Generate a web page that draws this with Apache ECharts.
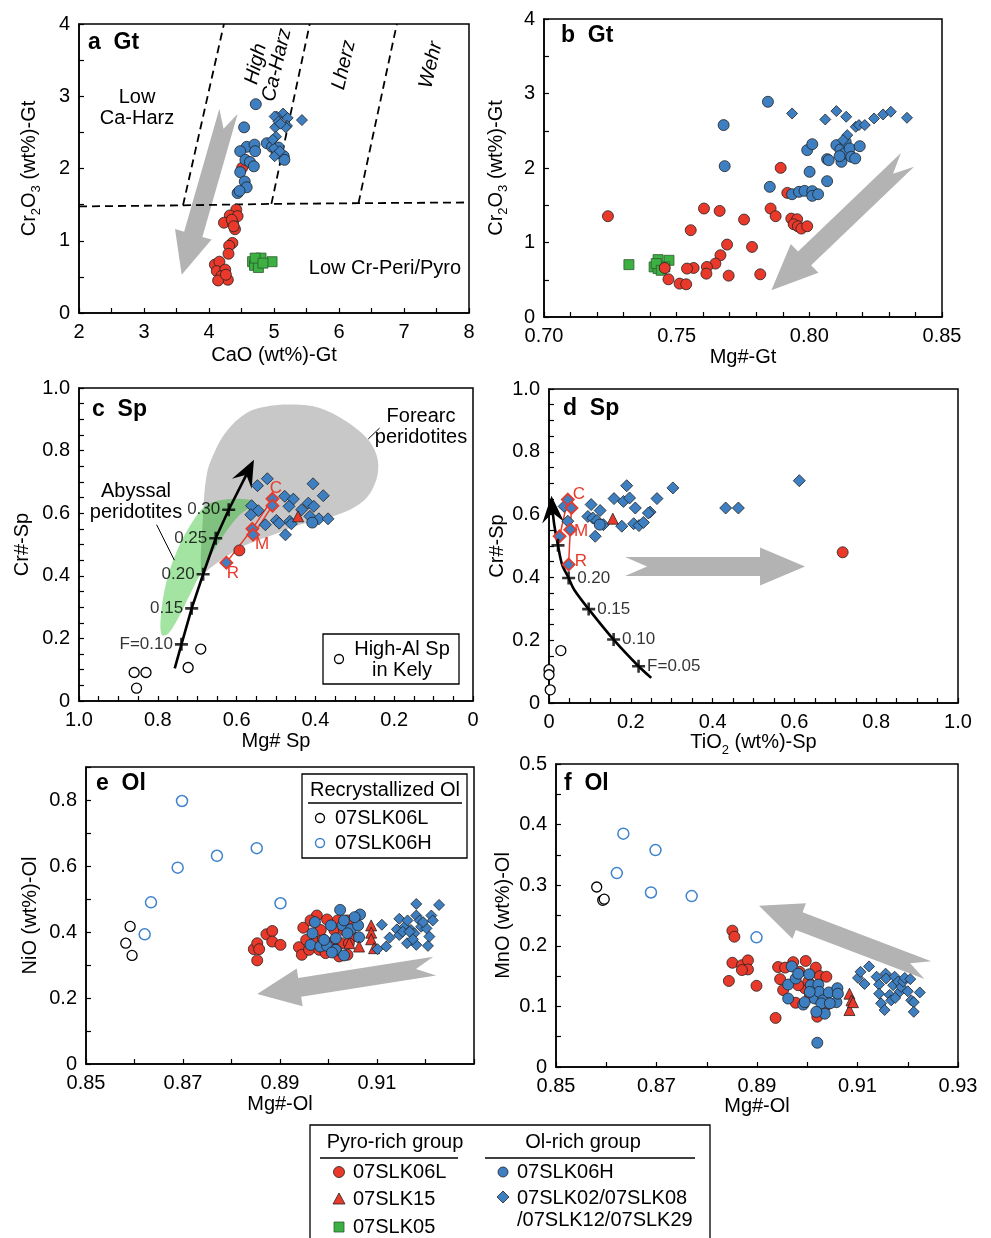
<!DOCTYPE html>
<html>
<head>
<meta charset="utf-8">
<script src="https://cdn.jsdelivr.net/npm/echarts@6/dist/echarts.min.js"></script>
<style>
  html, body { margin: 0; padding: 0; background: #fff; }
  #chart { width: 991px; height: 1238px; }
</style>
</head>
<body>
<div id="chart"></div>
<script>
// ---- panel a : CaO vs Cr2O3 in garnet ----
const aRed = [[4.51,2.01],[4.42,1.43],[4.32,1.35],[4.44,1.34],[4.23,1.25],[4.37,1.24],[4.40,1.16],[4.35,1.29],[4.38,1.20],[4.36,0.97],[4.31,0.93],[4.30,0.82],[4.09,0.67],[4.16,0.71],[4.12,0.58],[4.25,0.60],[4.19,0.51],[4.29,0.46],[4.14,0.45],[4.26,0.53]];
const aGreen = [[4.67,0.71],[4.80,0.76],[4.97,0.71],[4.70,0.66],[4.76,0.63],[4.71,0.76],[4.83,0.69]];
const aBlue = [[4.72,2.89],[4.54,2.57],[4.58,2.30],[4.48,2.24],[4.70,2.33],[4.71,2.24],[4.56,2.12],[4.63,2.09],[4.69,2.03],[4.48,1.95],[4.55,1.82],[4.58,1.74],[4.44,1.66],[4.47,1.69],[4.89,2.35],[4.97,2.30],[5.07,2.29],[5.15,2.17],[5.16,2.12],[5.04,2.21]];
const aDia = [[5.43,2.67],[5.14,2.76],[5.04,2.72],[5.21,2.70],[5.02,2.57],[5.20,2.59],[5.03,2.44],[5.01,2.72],[5.07,2.65],[5.00,2.28],[5.01,2.17],[5.09,2.24],[5.18,2.57],[5.10,2.62],[4.98,2.40]];
const aFields = [
  [[2,1.475],[3.6,1.49],[4.96,1.51],[6.30,1.52],[8,1.53]],
  [[3.6,1.49],[4.23,4.0]],
  [[4.96,1.51],[5.55,4.0]],
  [[6.30,1.52],[6.89,4.0]]
];
const aArrow = [4.30, 2.79, 3.58, 0.53];
const aXLabels = ['2','3','4','5','6','7','8'];
const aYLabels = ['0','1','2','3','4'];

// ---- panel b : Mg# vs Cr2O3 in garnet ----
const bGreen = [[0.7320,0.703],[0.7430,0.770],[0.7471,0.761],[0.7415,0.672],[0.7430,0.650],[0.7455,0.672],[0.7423,0.717],[0.7442,0.627]];
const bRed = [[0.7241,1.353],[0.7892,2.002],[0.7917,1.666],[0.7854,1.456],[0.7873,1.353],[0.7932,1.321],[0.7954,1.312],[0.7941,1.245],[0.7957,1.218],[0.7970,1.187],[0.7992,1.218],[0.7603,1.456],[0.7662,1.424],[0.7754,1.308],[0.7553,1.165],[0.7690,0.972],[0.7784,0.941],[0.7665,0.829],[0.7646,0.717],[0.7614,0.672],[0.7612,0.582],[0.7564,0.658],[0.7539,0.650],[0.7696,0.555],[0.7815,0.573],[0.7455,0.658],[0.7469,0.506],[0.7511,0.448],[0.7536,0.439]];
const bBlue = [[0.7844,2.889],[0.7677,2.576],[0.7681,2.025],[0.7851,1.747],[0.7935,1.648],[0.7961,1.680],[0.7982,1.693],[0.8011,1.689],[0.8011,1.626],[0.8033,1.648],[0.7992,2.240],[0.8011,2.320],[0.8001,1.949],[0.8067,1.823],[0.8067,2.119],[0.8073,2.105],[0.8102,2.307],[0.8117,2.249],[0.8121,2.083],[0.8137,2.352],[0.8133,2.195],[0.8152,2.262],[0.8158,2.150],[0.8173,2.128],[0.8190,2.293],[0.8114,2.159]];
const bDia = [[0.7935,2.732],[0.8060,2.652],[0.8102,2.764],[0.8139,2.688],[0.8175,2.553],[0.8187,2.576],[0.8209,2.576],[0.8244,2.665],[0.8278,2.719],[0.8307,2.755],[0.8368,2.674],[0.8143,2.441],[0.8127,2.374]];
const bArrow = [0.837, 2.11, 0.7857, 0.36];
const bXLabels = ['0.70','0.75','0.80','0.85'];
const bYLabels = ['0','1','2','3','4'];

// ---- panel c : Mg# vs Cr# in spinel ----
const forearcField = [[0.689,0.403],[0.685,0.595],[0.676,0.723],[0.659,0.787],[0.626,0.861],[0.575,0.920],[0.524,0.941],[0.456,0.947],[0.389,0.936],[0.321,0.893],[0.270,0.840],[0.245,0.787],[0.241,0.733],[0.254,0.680],[0.279,0.638],[0.321,0.606],[0.372,0.584],[0.440,0.563],[0.507,0.531],[0.575,0.499],[0.626,0.462],[0.668,0.424]];
const abyssalField = [[0.790,0.211],[0.792,0.275],[0.778,0.382],[0.752,0.478],[0.719,0.558],[0.680,0.622],[0.634,0.643],[0.566,0.643],[0.554,0.632],[0.592,0.595],[0.626,0.542],[0.659,0.478],[0.693,0.403],[0.719,0.339],[0.744,0.275],[0.773,0.216]];
const cDia = [[0.547,0.688],[0.522,0.710],[0.406,0.694],[0.380,0.656],[0.478,0.654],[0.456,0.645],[0.467,0.622],[0.562,0.624],[0.545,0.608],[0.564,0.595],[0.418,0.632],[0.404,0.622],[0.435,0.611],[0.414,0.590],[0.391,0.582],[0.368,0.582],[0.465,0.574],[0.499,0.577],[0.492,0.568],[0.461,0.566],[0.527,0.563],[0.476,0.531]];
const cZoned = [[0.626,0.442],[0.560,0.550],[0.558,0.531],[0.509,0.646],[0.509,0.624]];
const cZoneLines = [[[0.626,0.442],[0.560,0.550],[0.509,0.646]], [[0.509,0.624],[0.558,0.531]]];
const cBlue = [[0.408,0.570]];
const cRed = [[0.593,0.481]];
const cTri = [[0.444,0.590]];
const cOpen = [[0.860,0.091],[0.830,0.091],[0.854,0.041],[0.723,0.107],[0.691,0.166]];
const cMeltLine = [[0.757,0.104],[0.740,0.181],[0.714,0.296],[0.685,0.405],[0.653,0.520],[0.620,0.611],[0.556,0.771]];
const cMeltTicks = [[0.740,0.181,'F=0.10'],[0.714,0.296,'0.15'],[0.685,0.405,'0.20'],[0.653,0.520,'0.25'],[0.620,0.611,'0.30']];
const cLeaders = [[[0.803,0.563],[0.758,0.450]], [[0.266,0.837],[0.237,0.872]]];
const cXLabels = ['1.0','0.8','0.6','0.4','0.2','0'];
const cYLabels = ['0','0.2','0.4','0.6','0.8','1.0'];

// ---- panel d : TiO2 vs Cr# in spinel ----
const dDia = [[0.103,0.632],[0.190,0.692],[0.159,0.651],[0.182,0.642],[0.197,0.653],[0.211,0.621],[0.264,0.651],[0.303,0.685],[0.247,0.608],[0.243,0.605],[0.125,0.613],[0.095,0.594],[0.107,0.589],[0.117,0.581],[0.133,0.568],[0.113,0.531],[0.178,0.563],[0.207,0.571],[0.220,0.565],[0.231,0.575],[0.432,0.621],[0.463,0.621],[0.612,0.708],[0.037,0.626],[0.046,0.579]];
const dZoned = [[0.046,0.648],[0.055,0.621],[0.052,0.552],[0.048,0.441],[0.026,0.531]];
const dZoneLines = [[[0.026,0.531],[0.046,0.648],[0.055,0.621],[0.052,0.552],[0.048,0.441]]];
const dBlue = [[0.124,0.568]];
const dRed = [[0.718,0.480]];
const dTri = [[0.156,0.587]];
const dOpen = [[0.000,0.106],[0.000,0.090],[0.003,0.042],[0.029,0.167]];
const dMeltLine = [[0.250,0.080],[0.219,0.117],[0.158,0.202],[0.097,0.299],[0.062,0.360],[0.048,0.398],[0.032,0.441],[0.022,0.502],[0.013,0.566],[0.008,0.620],[0.006,0.660]];
const dMeltTicks = [[0.219,0.117,'F=0.05'],[0.158,0.202,'0.10'],[0.097,0.299,'0.15'],[0.048,0.398,'0.20'],[0.022,0.502,'']];
const dArrow = [0.186, 0.435, 0.626, 0.435];
const dXLabels = ['0','0.2','0.4','0.6','0.8','1.0'];
const dYLabels = ['0','0.2','0.4','0.6','0.8','1.0'];

// ---- panel e : Mg# vs NiO in olivine ----
const eOpenL = [[0.8591,0.417],[0.8582,0.366],[0.8595,0.329]];
const eOpenH = [[0.8698,0.797],[0.8689,0.595],[0.8634,0.490],[0.8621,0.393],[0.8770,0.631],[0.8852,0.654],[0.8901,0.487]];
const eRed = [[0.8846,0.348],[0.8853,0.366],[0.8853,0.314],[0.8857,0.348],[0.8872,0.393],[0.8884,0.403],[0.8884,0.371],[0.8901,0.361],[0.8939,0.354],[0.8945,0.331],[0.8948,0.413],[0.8954,0.376],[0.8960,0.346],[0.8976,0.450],[0.8974,0.371],[0.8981,0.346],[0.8988,0.378],[0.8997,0.438],[0.9001,0.366],[0.9012,0.406],[0.9019,0.435],[0.9022,0.326],[0.9026,0.366],[0.9032,0.406],[0.9039,0.435],[0.9039,0.331],[0.9050,0.386],[0.8984,0.406],[0.8963,0.435],[0.9015,0.346],[0.9042,0.366],[0.8994,0.336]];
const eBlue = [[0.8972,0.430],[0.8967,0.396],[0.8963,0.361],[0.8983,0.356],[0.8997,0.358],[0.9005,0.420],[0.9015,0.381],[0.9024,0.467],[0.9029,0.420],[0.9032,0.435],[0.9046,0.408],[0.9061,0.420],[0.9065,0.453],[0.9063,0.384],[0.9015,0.346],[0.9032,0.329],[0.9007,0.338],[0.8991,0.376],[0.9039,0.396],[0.9054,0.445]];
const eTri = [[0.9088,0.420],[0.9088,0.398],[0.9088,0.378],[0.9063,0.356],[0.9043,0.366],[0.9094,0.351]];
const eDia = [[0.9110,0.422],[0.9101,0.348],[0.9119,0.356],[0.9126,0.383],[0.9141,0.408],[0.9146,0.440],[0.9146,0.391],[0.9157,0.416],[0.9163,0.435],[0.9170,0.406],[0.9181,0.485],[0.9181,0.450],[0.9188,0.435],[0.9191,0.416],[0.9177,0.396],[0.9162,0.366],[0.9181,0.361],[0.9174,0.378],[0.9202,0.411],[0.9205,0.358],[0.9212,0.450],[0.9215,0.435],[0.9208,0.386],[0.9228,0.482],[0.9153,0.401],[0.9167,0.401],[0.9195,0.430]];
const eArrow = [0.9219, 0.2965, 0.8853, 0.212];
const eXLabels = ['0.85','0.87','0.89','0.91'];
const eYLabels = ['0','0.2','0.4','0.6','0.8'];

// ---- panel f : Mg# vs MnO in olivine ----
const fOpenL = [[0.8581,0.297],[0.8593,0.275],[0.8596,0.277]];
const fOpenH = [[0.8634,0.385],[0.8698,0.358],[0.8621,0.320],[0.8689,0.288],[0.8770,0.282],[0.8899,0.214]];
const fRed = [[0.8851,0.225],[0.8855,0.215],[0.8851,0.172],[0.8870,0.168],[0.8882,0.176],[0.8882,0.161],[0.8870,0.160],[0.8844,0.142],[0.8899,0.134],[0.8937,0.081],[0.8942,0.165],[0.8946,0.145],[0.8952,0.127],[0.8956,0.164],[0.8972,0.173],[0.8977,0.106],[0.8985,0.157],[0.8997,0.175],[0.8995,0.130],[0.9002,0.141],[0.9017,0.164],[0.9025,0.150],[0.9038,0.149],[0.9020,0.083],[0.9038,0.102],[0.9005,0.116],[0.8982,0.135]];
const fBlue = [[0.8969,0.166],[0.8962,0.136],[0.8962,0.113],[0.8977,0.146],[0.8982,0.154],[0.8992,0.103],[0.8995,0.107],[0.9004,0.153],[0.9007,0.135],[0.9015,0.113],[0.9022,0.136],[0.9024,0.124],[0.9031,0.110],[0.9028,0.105],[0.9035,0.088],[0.9043,0.123],[0.9058,0.107],[0.9060,0.130],[0.9061,0.121],[0.9020,0.040],[0.9045,0.105],[0.9005,0.124],[0.9018,0.091]];
const fTri = [[0.9084,0.121],[0.9088,0.110],[0.9084,0.094],[0.9091,0.107]];
const fDia = [[0.9101,0.147],[0.9106,0.157],[0.9123,0.166],[0.9114,0.137],[0.9138,0.149],[0.9143,0.136],[0.9156,0.154],[0.9157,0.146],[0.9143,0.121],[0.9147,0.105],[0.9154,0.094],[0.9164,0.119],[0.9171,0.135],[0.9174,0.149],[0.9181,0.141],[0.9184,0.124],[0.9187,0.132],[0.9191,0.141],[0.9194,0.147],[0.9200,0.125],[0.9205,0.145],[0.9207,0.110],[0.9212,0.107],[0.9212,0.091],[0.9224,0.123],[0.9167,0.110],[0.9175,0.114]];
const fArrow = [0.924, 0.160, 0.8904, 0.266];
const fXLabels = ['0.85','0.87','0.89','0.91','0.93'];
const fYLabels = ['0','0.1','0.2','0.3','0.4','0.5'];

// ---- styles ----
const FONT = '"Liberation Sans", Arial, Helvetica, sans-serif';
const RED = '#e8392b', BLUE = '#3d7fc1', GREEN = '#3cb043', OBLUE = '#3f83cc';
const GRAY_ARROW = '#b3b3b3';
const PLUS = 'path://M-1,-5L1,-5L1,-1L5,-1L5,1L1,1L1,5L-1,5L-1,1L-5,1L-5,-1L-1,-1Z';

const ST = {
  red:   { symbol: 'circle', size: 11, fill: RED, stroke: '#222', bw: 0.8 },
  blue:  { symbol: 'circle', size: 11, fill: BLUE, stroke: '#222', bw: 0.8 },
  dia:   { symbol: 'diamond', size: 11, fill: BLUE, stroke: '#222', bw: 0.8 },
  diaL:  { symbol: 'diamond', size: 12, fill: BLUE, stroke: '#222', bw: 0.8 },
  tri:   { symbol: 'triangle', size: 11, fill: RED, stroke: '#222', bw: 0.8 },
  green: { symbol: 'rect', size: 10, fill: GREEN, stroke: '#2d5a2d', bw: 0.8 },
  openK: { symbol: 'circle', size: 10, fill: '#fff', stroke: '#000', bw: 1.3 },
  openB: { symbol: 'circle', size: 11, fill: '#fff', stroke: OBLUE, bw: 1.5 },
  zoned: { symbol: 'diamond', size: 12, fill: BLUE, stroke: RED, bw: 1.8 }
};

const RICH = {
  n: { fontSize: 20, fontFamily: FONT, color: '#000', verticalAlign: 'top', lineHeight: 20 },
  s: { fontSize: 13, fontFamily: FONT, color: '#000', verticalAlign: 'bottom', lineHeight: 24 }
};

function pick(labels) {
  return function (v) {
    for (const s of labels) {
      if (Math.abs(parseFloat(s) - v) < 1e-6) return s;
    }
    return '';
  };
}

function axis(gi, min, max, step, labels, name, gap, extra) {
  return Object.assign({
    gridIndex: gi, type: 'value', min: min, max: max, interval: step,
    name: name, nameLocation: 'middle', nameGap: gap,
    nameTextStyle: { fontSize: 20, color: '#000', fontFamily: FONT, rich: RICH },
    axisLine: { show: true, onZero: false, lineStyle: { color: '#000', width: 1.5 } },
    axisTick: { show: true, inside: true, length: 5, interval: 0, lineStyle: { color: '#000', width: 1.2 } },
    axisLabel: { interval: 0, margin: 9, fontSize: 20, color: '#000', fontFamily: FONT,
                 formatter: pick(labels), showMinLabel: true, showMaxLabel: true },
    splitLine: { show: false }
  }, extra || {});
}

function scatter(gi, data, st) {
  return {
    type: 'scatter', xAxisIndex: gi, yAxisIndex: gi, data: data,
    symbol: st.symbol, symbolSize: st.size, z: 5, silent: true, animation: false,
    itemStyle: { color: st.fill, borderColor: st.stroke, borderWidth: st.bw, opacity: 1 }
  };
}

function polylines(gi, list, lineStyle, extra) {
  return Object.assign({
    type: 'lines', coordinateSystem: 'cartesian2d', xAxisIndex: gi, yAxisIndex: gi,
    polyline: true, data: list.map(function (c) { return { coords: c }; }),
    lineStyle: lineStyle, symbol: 'none', z: 3, silent: true, animation: false
  }, extra || {});
}

// melting trend: polyline through the points with a stealth arrowhead at the last one
function meltCurve(gi, pts, smooth) {
  return {
    type: 'custom', coordinateSystem: 'cartesian2d', xAxisIndex: gi, yAxisIndex: gi,
    data: pts, encode: { x: 0, y: 1 }, z: 4, silent: true, animation: false,
    renderItem: function (params, api) {
      if (params.dataIndex !== 0) return null;
      const px = pts.map(function (p) { return api.coord(p); });
      const tip = px[px.length - 1], prev = px[px.length - 2];
      const dx = tip[0] - prev[0], dy = tip[1] - prev[1];
      const len = Math.sqrt(dx * dx + dy * dy);
      const ux = dx / len, uy = dy / len, nx = -uy, ny = ux;
      const HL = 27, HW = 11, NOTCH = 17;
      const back = [tip[0] - ux * HL, tip[1] - uy * HL];
      const notch = [tip[0] - ux * NOTCH, tip[1] - uy * NOTCH];
      const linePts = px.slice(0, -1).concat([notch]);
      return {
        type: 'group',
        children: [
          { type: 'polyline', shape: { points: linePts, smooth: smooth },
            style: { stroke: '#000', lineWidth: 2.6, fill: null } },
          { type: 'polygon', shape: { points: [
              tip, [back[0] + nx * HW, back[1] + ny * HW], notch, [back[0] - nx * HW, back[1] - ny * HW]
            ] }, style: { fill: '#000' } }
        ]
      };
    }
  };
}

function crosses(gi, ticks, pos) {
  return {
    type: 'scatter', xAxisIndex: gi, yAxisIndex: gi, z: 6, silent: true, animation: false,
    symbol: PLUS, symbolSize: 13, itemStyle: { color: '#000' },
    data: ticks.map(function (t) { return { value: [t[0], t[1]], name: t[2] }; }),
    label: { show: true, position: pos, distance: 2, formatter: '{b}', fontSize: 17,
             fontFamily: FONT, color: '#000' }
  };
}

function field(gi, pts, fill, z) {
  return {
    type: 'custom', coordinateSystem: 'cartesian2d', xAxisIndex: gi, yAxisIndex: gi,
    data: pts, encode: { x: 0, y: 1 }, z: z, silent: true, animation: false,
    renderItem: function (params, api) {
      if (params.dataIndex !== 0) return null;
      const points = pts.map(function (p) { return api.coord(p); });
      return { type: 'polygon', shape: { points: points, smooth: 0.35 }, style: { fill: fill } };
    }
  };
}

// fat grey arrow with notched tail, from tail (x0,y0) to tip (x1,y1)
function fatArrow(gi, seg, sw, hw, hl, nd) {
  return {
    type: 'custom', coordinateSystem: 'cartesian2d', xAxisIndex: gi, yAxisIndex: gi,
    data: [seg], encode: { x: [0, 2], y: [1, 3] }, z: 2, silent: true, animation: false,
    renderItem: function (params, api) {
      const p0 = api.coord([api.value(0), api.value(1)]);
      const p1 = api.coord([api.value(2), api.value(3)]);
      const dx = p1[0] - p0[0], dy = p1[1] - p0[1];
      const len = Math.sqrt(dx * dx + dy * dy);
      const ux = dx / len, uy = dy / len, nx = -uy, ny = ux;
      const bx = p1[0] - ux * hl, by = p1[1] - uy * hl;
      const pts = [
        [p0[0] + nx * sw, p0[1] + ny * sw],
        [bx + nx * sw, by + ny * sw],
        [bx + nx * hw, by + ny * hw],
        [p1[0], p1[1]],
        [bx - nx * hw, by - ny * hw],
        [bx - nx * sw, by - ny * sw],
        [p0[0] - nx * sw, p0[1] - ny * sw],
        [p0[0] + ux * nd, p0[1] + uy * nd]
      ];
      return { type: 'polygon', shape: { points: pts }, style: { fill: GRAY_ARROW } };
    }
  };
}

// ---- graphic helpers ----
function T(text, x, y, o) {
  o = o || {};
  return {
    type: 'text', x: x, y: y, rotation: o.rot || 0, silent: true, z: 20,
    style: {
      text: text, fill: o.color || '#000', fontSize: o.size || 20, fontFamily: FONT,
      fontWeight: o.bold ? 'bold' : 'normal', fontStyle: o.italic ? 'italic' : 'normal',
      align: o.align || 'center', verticalAlign: 'middle', lineHeight: o.lh || 21
    }
  };
}
function L(x1, y1, x2, y2, w) {
  return { type: 'line', silent: true, z: 20, shape: { x1: x1, y1: y1, x2: x2, y2: y2 },
           style: { stroke: '#000', lineWidth: w || 1.5 } };
}
function box(x, y, w, h) {
  return { type: 'rect', silent: true, z: 19, shape: { x: x, y: y, width: w, height: h },
           style: { fill: '#fff', stroke: '#000', lineWidth: 1.3 } };
}
function circ(cx, cy, r, fill, stroke, lw) {
  return { type: 'circle', silent: true, z: 21, shape: { cx: cx, cy: cy, r: r },
           style: { fill: fill, stroke: stroke, lineWidth: lw } };
}
function poly(points, fill) {
  return { type: 'polygon', silent: true, z: 21, shape: { points: points },
           style: { fill: fill, stroke: '#222', lineWidth: 0.8 } };
}

const grids = [
  { left: 79, top: 24, width: 390, height: 289 },
  { left: 544, top: 19, width: 398, height: 298 },
  { left: 79, top: 388, width: 394, height: 313 },
  { left: 549, top: 389, width: 409, height: 314 },
  { left: 86, top: 767, width: 388, height: 297 },
  { left: 556, top: 764, width: 402, height: 303 }
].map(function (g) {
  return Object.assign({ show: true, borderColor: '#000', borderWidth: 1.5,
                         backgroundColor: 'transparent', containLabel: false,
                         outerBoundsMode: 'none' }, g);
});

const xAxes = [
  axis(0, 2, 8, 0.5, aXLabels, '{n|CaO (wt%)-Gt}', 32),
  axis(1, 0.70, 0.85, 0.01, bXLabels, '{n|Mg#-Gt}', 30),
  axis(2, 0, 1, 0.05, cXLabels, '{n|Mg# Sp}', 30, { inverse: true }),
  axis(3, 0, 1, 0.05, dXLabels, '{n|TiO}{s|2}{n| (wt%)-Sp}', 29),
  axis(4, 0.85, 0.93, 0.01, eXLabels, '{n|Mg#-Ol}', 30),
  axis(5, 0.85, 0.93, 0.01, fXLabels, '{n|Mg#-Ol}', 29)
];
const yAxes = [
  axis(0, 0, 4, 0.5, aYLabels, '{n|Cr}{s|2}{n|O}{s|3}{n| (wt%)-Gt}', 36),
  axis(1, 0, 4, 0.5, bYLabels, '{n|Cr}{s|2}{n|O}{s|3}{n| (wt%)-Gt}', 34),
  axis(2, 0, 1, 0.05, cYLabels, '{n|Cr#-Sp}', 47),
  axis(3, 0, 1, 0.05, dYLabels, '{n|Cr#-Sp}', 42),
  axis(4, 0, 0.9, 0.1, eYLabels, '{n|NiO (wt%)-Ol}', 46),
  axis(5, 0, 0.5, 0.05, fYLabels, '{n|MnO (wt%)-Ol}', 43)
];

const thinBlack = { color: '#000', width: 1, opacity: 1 };

const series = [
  // a
  polylines(0, aFields, { color: '#000', width: 1.8, type: [8, 5], opacity: 1 }),
  fatArrow(0, aArrow, 9.5, 19, 42, 18),
  scatter(0, aRed, ST.red), scatter(0, aGreen, ST.green),
  scatter(0, aBlue, ST.blue), scatter(0, aDia, ST.dia),
  // b
  fatArrow(1, bArrow, 9.5, 20, 46, 20),
  scatter(1, bGreen, ST.green), scatter(1, bRed, ST.red),
  scatter(1, bBlue, ST.blue), scatter(1, bDia, ST.dia),
  // c
  field(2, forearcField, '#c8c8c8', 1),
  field(2, abyssalField, 'rgba(0,180,0,0.36)', 1.5),
  polylines(2, cLeaders, thinBlack),
  meltCurve(2, cMeltLine, 0),
  crosses(2, cMeltTicks, 'left'),
  polylines(2, cZoneLines, { color: RED, width: 1.5, opacity: 1 }),
  scatter(2, cOpen, ST.openK), scatter(2, cDia, ST.diaL), scatter(2, cZoned, ST.zoned),
  scatter(2, cRed, ST.red), scatter(2, cBlue, ST.blue), scatter(2, cTri, ST.tri),
  // d
  fatArrow(3, dArrow, 9.5, 19, 45, 22),
  meltCurve(3, dMeltLine, 0.3),
  crosses(3, dMeltTicks, 'right'),
  scatter(3, dDia, ST.diaL),
  polylines(3, dZoneLines, { color: RED, width: 1.5, opacity: 1 }, { z: 5 }),
  scatter(3, dZoned, ST.zoned),
  scatter(3, dOpen, ST.openK), scatter(3, dRed, ST.red), scatter(3, dBlue, ST.blue), scatter(3, dTri, ST.tri),
  // e
  fatArrow(4, eArrow, 9.5, 19, 43, 19),
  scatter(4, eOpenL, ST.openK), scatter(4, eOpenH, ST.openB),
  scatter(4, eRed, ST.red), scatter(4, eBlue, ST.blue), scatter(4, eTri, ST.tri), scatter(4, eDia, ST.dia),
  // f
  fatArrow(5, fArrow, 9.5, 19, 43, 19),
  scatter(5, fOpenL, ST.openK), scatter(5, fOpenH, ST.openB),
  scatter(5, fRed, ST.red), scatter(5, fBlue, ST.blue), scatter(5, fTri, ST.tri), scatter(5, fDia, ST.dia)
];

const ROT = 77 * Math.PI / 180;
const graphics = [
  // panel a texts
  T('a  Gt', 88, 43, { bold: true, size: 23, align: 'left' }),
  T('Low\nCa-Harz', 137, 108),
  T('High', 256, 64, { italic: true, rot: ROT }),
  T('Ca-Harz', 277, 65, { italic: true, rot: ROT }),
  T('Lherz', 344, 65, { italic: true, rot: ROT }),
  T('Wehr', 431, 65, { italic: true, rot: ROT }),
  T('Low Cr-Peri/Pyro', 385, 268),
  // panel b
  T('b  Gt', 561, 36, { bold: true, size: 23, align: 'left' }),
  // panel c
  T('c  Sp', 92, 410, { bold: true, size: 23, align: 'left' }),
  T('Forearc\nperidotites', 421, 427),
  T('Abyssal\nperidotites', 136, 502),
  T('C', 276, 488, { color: RED, size: 17 }),
  T('M', 262, 544, { color: RED, size: 17 }),
  T('R', 233, 573, { color: RED, size: 17 }),
  box(323, 634, 136, 50),
  circ(339, 659, 4.5, '#fff', '#000', 1.3),
  T('High-Al Sp\nin Kely', 402, 660),
  // panel d
  T('d  Sp', 563, 409, { bold: true, size: 23, align: 'left' }),
  T('C', 579, 494, { color: RED, size: 17 }),
  T('M', 581, 531, { color: RED, size: 17 }),
  T('R', 581, 561, { color: RED, size: 17 }),
  // panel e
  T('e  Ol', 96, 784, { bold: true, size: 23, align: 'left' }),
  box(302, 774, 165, 84),
  T('Recrystallized Ol', 385, 790),
  L(308, 803, 462, 803, 1.3),
  circ(320, 818, 4.5, '#fff', '#000', 1.3),
  T('07SLK06L', 335, 818, { align: 'left' }),
  circ(320, 843, 4.5, '#fff', OBLUE, 1.5),
  T('07SLK06H', 335, 843, { align: 'left' }),
  // panel f
  T('f  Ol', 564, 784, { bold: true, size: 23, align: 'left' }),
  // bottom legend
  box(310, 1125, 400, 130),
  T('Pyro-rich group', 395, 1142),
  T('Ol-rich group', 583, 1142),
  L(320, 1158, 458, 1158), L(485, 1158, 695, 1158),
  circ(339, 1172, 5.5, RED, '#222', 0.8),
  T('07SLK06L', 353, 1172, { align: 'left' }),
  poly([[339, 1193], [345, 1204], [333, 1204]], RED),
  T('07SLK15', 353, 1199, { align: 'left' }),
  { type: 'rect', silent: true, z: 21, shape: { x: 334, y: 1222, width: 10, height: 10 },
    style: { fill: GREEN, stroke: '#2d5a2d', lineWidth: 0.8 } },
  T('07SLK05', 353, 1227, { align: 'left' }),
  circ(503, 1172, 5, BLUE, '#222', 0.8),
  T('07SLK06H', 517, 1172, { align: 'left' }),
  poly([[503, 1191], [509, 1197], [503, 1203], [497, 1197]], BLUE),
  T('07SLK02/07SLK08\n/07SLK12/07SLK29', 517, 1209, { align: 'left', lh: 22 })
];

const chart = echarts.init(document.getElementById('chart'), null, { renderer: 'canvas' });
chart.setOption({
  backgroundColor: '#fff',
  animation: false,
  textStyle: { fontFamily: FONT },
  grid: grids,
  xAxis: xAxes,
  yAxis: yAxes,
  series: series,
  graphic: { elements: graphics }
});
</script>
</body>
</html>
